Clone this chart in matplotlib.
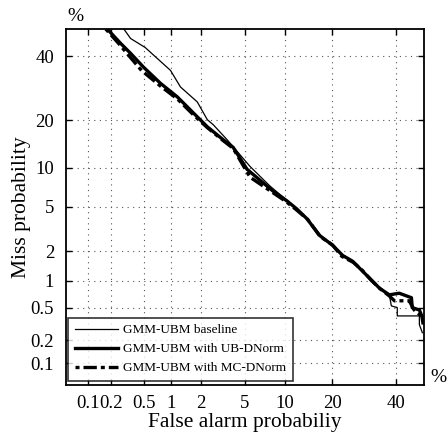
import math
import numpy as np
import matplotlib
matplotlib.use("Agg")
import matplotlib.pyplot as plt
from matplotlib.ticker import FixedLocator, FixedFormatter

# ---------------- data (percent) ----------------
fa_base = [0.29, 0.35, 0.52, 0.65, 0.99, 1.26, 1.86, 2.32, 2.64, 3.52, 5.49, 7.84,
           10.4, 12.1, 14.1, 16.9, 20.1, 22.7, 25.6, 28.6, 31.8, 34.1, 37.5,
           38.2, 40.3, 40.3, 48.3, 48.3, 49.4]
miss_base = [50, 46.5, 43.2, 40.4, 35.1, 29.6, 25.0, 20.1, 18.8, 15.3, 10.2, 7.33,
             5.65, 4.85, 4.0, 2.85, 2.3, 1.84, 1.6, 1.27, 1.0, 0.84, 0.70,
             0.525, 0.50, 0.40, 0.40, 0.314, 0.25]

fa_ub = [0.18, 0.265, 0.35, 0.497, 0.77, 1.17, 1.70, 2.32, 3.25, 3.97, 5.19, 8.25,
         10.4, 12.1, 14.1, 16.9, 20.1, 22.7, 25.6, 28.6, 31.8, 34.1, 37.5, 41.0,
         45.4, 45.7, 48.3, 49.2, 49.6]
miss_ub = [50, 44.7, 41.1, 36.2, 30.8, 26.5, 21.9, 18.3, 15.3, 13.7, 9.74, 6.71,
           5.60, 4.82, 3.97, 2.81, 2.27, 1.82, 1.59, 1.26, 0.99, 0.83, 0.70, 0.73,
           0.65, 0.50, 0.47, 0.40, 0.33]

fa_mc = [0.172, 0.25, 0.331, 0.47, 0.77, 1.17, 1.70, 2.32, 3.25, 3.97, 5.49, 8.1,
         10.2, 12.0, 14.3, 17.0, 20.0, 22.5, 25.8, 28.4, 31.5, 34.3, 37.5, 39.3,
         44.6, 46.4, 49.0]
miss_mc = [50, 44.7, 40.4, 35.1, 29.9, 25.9, 21.4, 18.1, 15.1, 13.5, 8.54, 6.6,
           5.55, 4.75, 3.9, 2.75, 2.3, 1.78, 1.55, 1.3, 1.0, 0.82, 0.68, 0.60,
           0.60, 0.47, 0.40]

tick_vals = [0.1, 0.2, 0.5, 1, 2, 5, 10, 20, 40]
tick_labels = ["0.1", "0.2", "0.5", "1", "2", "5", "10", "20", "40"]
labels = ["GMM-UBM baseline", "GMM-UBM with UB-DNorm", "GMM-UBM with MC-DNorm"]

# ---------------- probit scale ----------------
_a = [-3.969683028665376e+01, 2.209460984245205e+02, -2.759285104469687e+02,
      1.383577518672690e+02, -3.066479806614716e+01, 2.506628277459239e+00]
_b = [-5.447609879822406e+01, 1.615858368580409e+02, -1.556989798598866e+02,
      6.680131188771972e+01, -1.328068155288572e+01]
_c = [-7.784894002430293e-03, -3.223964580411365e-01, -2.400758277161838e+00,
      -2.549732539343734e+00, 4.374664141464968e+00, 2.938163982698783e+00]
_d = [7.784695709041462e-03, 3.224671290700398e-01, 2.445134137142996e+00,
      3.754408661907416e+00]


def _ppf1(p):
    plow = 0.02425
    if p < plow:
        q = math.sqrt(-2 * math.log(p))
        return (((((_c[0]*q+_c[1])*q+_c[2])*q+_c[3])*q+_c[4])*q+_c[5]) / \
               ((((_d[0]*q+_d[1])*q+_d[2])*q+_d[3])*q+1)
    if p > 1 - plow:
        q = math.sqrt(-2 * math.log(1 - p))
        return -(((((_c[0]*q+_c[1])*q+_c[2])*q+_c[3])*q+_c[4])*q+_c[5]) / \
                ((((_d[0]*q+_d[1])*q+_d[2])*q+_d[3])*q+1)
    q = p - 0.5
    r = q * q
    return (((((_a[0]*r+_a[1])*r+_a[2])*r+_a[3])*r+_a[4])*r+_a[5])*q / \
           (((((_b[0]*r+_b[1])*r+_b[2])*r+_b[3])*r+_b[4])*r+1)


def forward(pct):
    pct = np.asarray(pct, dtype=float)
    p = np.clip(pct / 100.0, 1e-9, 1 - 1e-9)
    out = np.array([_ppf1(v) for v in p.ravel()]).reshape(p.shape)
    return out


def inverse(u):
    u = np.asarray(u, dtype=float)
    out = np.array([50.0 * (1 + math.erf(v / math.sqrt(2))) for v in u.ravel()]).reshape(u.shape)
    return out


plt.rcParams['font.family'] = ['Liberation Serif', 'DejaVu Serif']
plt.rcParams['mathtext.fontset'] = 'stix'

fig = plt.figure(figsize=(4.48, 4.32), dpi=100)
ax = fig.add_axes([66/448, 1-385/432, 358/448, 356/432])
ax.set_xscale('function', functions=(forward, inverse))
ax.set_yscale('function', functions=(forward, inverse))
ax.set_xlim(0.05, 50)
ax.set_ylim(0.05, 50)

ax.plot(fa_base, miss_base, color='black', lw=0.9, ls='-', label=labels[0])
ax.plot(fa_ub, miss_ub, color='black', lw=2.4, ls='-', label=labels[1])
ax.plot(fa_mc, miss_mc, color='black', lw=2.4, ls=(0, (1.2, 1.2, 4, 1.2)), label=labels[2])

for axis in (ax.xaxis, ax.yaxis):
    axis.set_major_locator(FixedLocator(tick_vals))
    axis.set_major_formatter(FixedFormatter(tick_labels))
    axis.set_minor_locator(FixedLocator([]))

ax.tick_params(axis='both', which='major', direction='in', length=4, width=1,
               top=True, right=True, labelsize=13.5)
ax.tick_params(axis='x', pad=7.5)
ax.tick_params(axis='y', pad=8.5)
ax.grid(True, ls=(0, (1, 4)), color='#555555', lw=0.8)
for s in ax.spines.values():
    s.set_linewidth(1.3)

ax.set_xlabel("False alarm probabiliy", fontsize=15.5, labelpad=0.5)
ax.set_ylabel("Miss probability", fontsize=15.5, labelpad=0)

ax.text(0.025, 1.012, "%", transform=ax.transAxes, fontsize=14, ha='center', va='bottom')
ax.text(1.017, 0.02, "%", transform=ax.transAxes, fontsize=14, ha='left', va='center')

leg = ax.legend(loc='lower left', bbox_to_anchor=(0.006, 0.012), borderaxespad=0,
                fontsize=9.5, frameon=True, fancybox=False, edgecolor='black',
                handlelength=3.3, handletextpad=0.35, labelspacing=0.5, borderpad=0.5)
leg.get_frame().set_linewidth(1.2)

fig.savefig("out.png", dpi=100)
